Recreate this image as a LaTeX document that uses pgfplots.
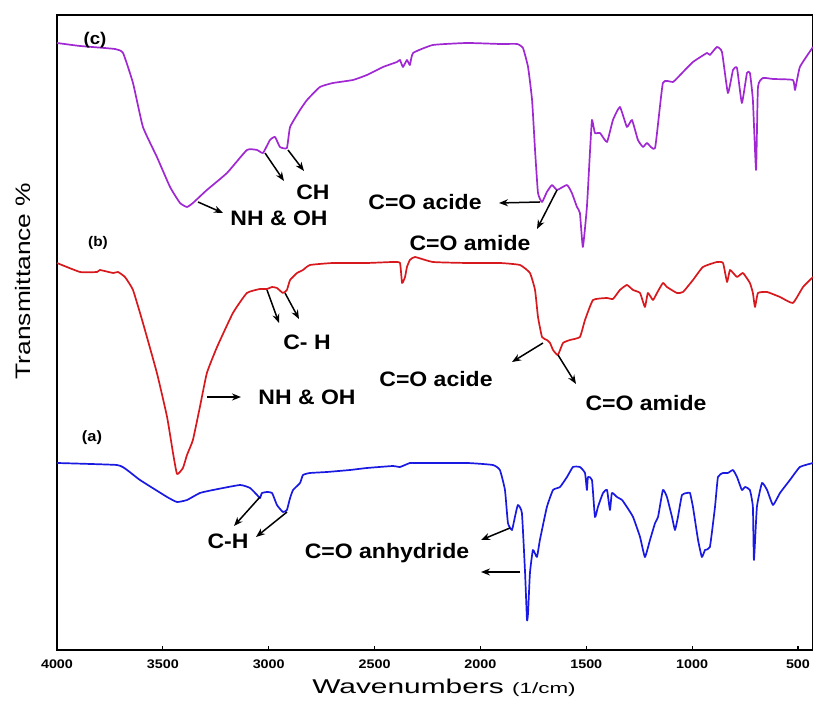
\documentclass[border=0pt]{standalone}
\usepackage{pgfplots}
\pgfplotsset{compat=1.18}
\usepackage{fontspec}
\setmainfont{Liberation Sans}
\newfontfamily\lblfont[FakeStretch=1.1]{Liberation Sans}
\newfontfamily\axfont[FakeStretch=1.5]{Liberation Sans}
\newfontfamily\ylfont[FakeStretch=1.26]{Liberation Sans}
\newfontfamily\tickfont[FakeStretch=1.15]{Liberation Sans}
\usetikzlibrary{arrows.meta}
\definecolor{cpurple}{RGB}{160,40,210}
\definecolor{cred}{RGB}{215,25,30}
\definecolor{cblue}{RGB}{25,25,225}
\begin{document}
\begin{tikzpicture}[x=1bp,y=1bp]
\path[use as bounding box] (-57,-56) rectangle (756,650);
\begin{axis}[at={(0,0)}, anchor=south west, scale only axis,
  width=756bp, height=635bp, x dir=reverse,
  xmin=429, xmax=4000, ymin=0, ymax=635,
  xtick={4000,3500,...,500}, xtick pos=bottom, ytick=\empty,
  axis line style={line width=1.6bp},
  major tick length=4bp, xtick style={line width=1.2bp, black},
  xticklabel style={font=\tickfont\bfseries\fontsize{12.5}{14}\selectfont, yshift=-6bp},
  /pgf/number format/assume math mode=true,
  /pgf/number format/1000 sep={},
  every axis plot/.append style={line width=1.7bp, line join=round, smooth, tension=0.25},
  clip=false]
\addplot[cpurple] coordinates {
(4000,607)(3891,604)(3726,601)(3688,597)(3641,567)(3594,523)(3528,493)(3466,463)(3419,447)(3386,443)(3358,447)(3292,460)(3197,477)(3103,500)(3055,500)(3027,497)(2994,510)(2970,513)(2947,503)(2914,502)(2899,523)(2852,540)(2819,550)(2758,563)(2696,567)(2602,570)(2536,575)(2460,583)(2394,588)(2380,590)(2366,583)(2347,590)(2333,585)(2318,597)(2224,605)(2063,607)(1908,606)(1827,606)(1799,602)(1775,583)(1756,550)(1742,500)(1728,457)(1709,448)(1686,458)(1662,465)(1638,460)(1591,465)(1568,457)(1544,443)(1530,437)(1516,403)(1497,443)(1482,500)(1473,530)(1459,517)(1435,517)(1402,508)(1374,530)(1341,543)(1308,523)(1284,530)(1256,510)(1232,503)(1213,507)(1175,502)(1138,567)(1090,568)(1043,578)(996,588)(930,597)(916,595)(883,603)(859,598)(831,557)(807,580)(788,582)(765,547)(741,577)(727,577)(713,550)(698,480)(689,563)(665,572)(618,571)(524,570)(514,560)(491,583)(429,603)
};
\addplot[cred] coordinates {
(4000,387)(3891,378)(3811,378)(3797,380)(3735,377)(3712,378)(3679,373)(3641,360)(3594,327)(3528,277)(3480,233)(3452,197)(3433,176)(3405,182)(3386,195)(3358,210)(3325,243)(3292,277)(3244,303)(3169,337)(3103,357)(3041,361)(3008,361)(2984,363)(2961,362)(2933,357)(2914,360)(2899,370)(2866,377)(2838,380)(2805,385)(2696,387)(2536,387)(2413,388)(2380,387)(2370,367)(2356,373)(2347,383)(2333,390)(2309,393)(2224,388)(2063,387)(1908,387)(1813,385)(1766,377)(1742,360)(1728,333)(1709,313)(1686,310)(1671,307)(1657,300)(1634,295)(1610,307)(1577,310)(1530,313)(1506,330)(1468,350)(1402,352)(1374,351)(1341,360)(1308,365)(1279,360)(1246,357)(1223,343)(1209,357)(1185,350)(1166,357)(1138,367)(1119,363)(1072,357)(1043,358)(996,370)(949,383)(883,388)(854,387)(835,368)(821,380)(788,373)(760,377)(727,367)(713,357)(703,343)(689,357)(646,358)(585,353)(524,347)(476,363)(429,373)
};
\addplot[cblue] coordinates {
(4000,187)(3717,185)(3669,180)(3608,170)(3480,153)(3433,148)(3386,150)(3325,157)(3263,160)(3136,165)(3088,162)(3055,155)(3041,152)(3032,157)(3008,158)(2984,157)(2961,145)(2933,138)(2914,140)(2899,152)(2885,160)(2852,167)(2838,175)(2805,177)(2725,178)(2616,180)(2536,182)(2413,184)(2380,183)(2333,187)(2300,187)(2063,187)(1941,185)(1908,180)(1884,160)(1870,127)(1851,120)(1837,133)(1823,145)(1804,137)(1789,77)(1780,30)(1775,37)(1766,77)(1752,100)(1733,93)(1719,110)(1686,143)(1657,160)(1624,163)(1591,173)(1563,183)(1530,183)(1506,177)(1497,160)(1492,173)(1473,170)(1459,133)(1445,143)(1421,157)(1402,160)(1388,140)(1379,157)(1355,153)(1331,150)(1308,143)(1279,133)(1246,113)(1223,93)(1199,110)(1175,127)(1161,133)(1138,160)(1119,153)(1095,133)(1081,120)(1067,133)(1048,155)(1024,157)(1010,157)(996,143)(972,110)(954,93)(939,100)(916,103)(892,143)(878,173)(854,177)(831,177)(807,180)(788,173)(765,160)(750,163)(727,160)(713,143)(708,90)(694,143)(670,167)(646,160)(618,145)(585,157)(538,170)(491,183)(429,187)
};
\end{axis}
% axis labels
\node[font=\axfont\fontsize{20}{22}\selectfont, anchor=base] at (387,-44) {Wavenumbers {\fontsize{15}{17}\selectfont(1/cm)}};
\node[font=\ylfont\fontsize{21}{23}\selectfont, rotate=90] at (-34,369) {Transmittance \%};
% annotations
\tikzset{lbl/.style={font=\lblfont\bfseries\fontsize{21}{23}\selectfont, inner sep=0pt},
         arr/.style={-{Stealth[length=9bp,width=7bp]}, line width=1.5bp, black}}
\node[font=\lblfont\bfseries\fontsize{17}{19}\selectfont, inner sep=0pt] at (38,610) {(c)};
\node[font=\lblfont\bfseries\fontsize{14}{16}\selectfont, inner sep=0pt] at (41,407) {(b)};
\node[font=\lblfont\bfseries\fontsize{15}{17}\selectfont, inner sep=0pt] at (35,212) {(a)};
% purple
\node[lbl] at (222,432) {NH \& OH};
\draw[arr] (141,448) -- (166,437);
\node[lbl] at (256,458) {CH};
\draw[arr] (208,497) -- (227,469);
\draw[arr] (231,500) -- (247,479);
\node[lbl] at (368,448) {C=O acide};
\draw[arr] (483,448) -- (442,447);
\node[lbl] at (413,407) {C=O amide};
\draw[arr] (500,460) -- (480,421);
% red
\node[lbl] at (250,308) {C- H};
\draw[arr] (210,360) -- (222,327);
\draw[arr] (228,357) -- (242,331);
\node[lbl] at (250,253) {NH \& OH};
\draw[arr] (150,253) -- (184,253);
\node[lbl] at (379,271) {C=O acide};
\draw[arr] (486,307) -- (455,288);
\node[lbl] at (589,247) {C=O amide};
\draw[arr] (501,295) -- (519,266);
% blue
\node[lbl] at (171,109) {C-H};
\draw[arr] (203,153) -- (177,124);
\draw[arr] (230,138) -- (199,113);
\node[lbl] at (330,97) {C=O anhydride};
\draw[arr] (453,122) -- (424,110);
\draw[arr] (463,78) -- (424,78);
\end{tikzpicture}
\end{document}
